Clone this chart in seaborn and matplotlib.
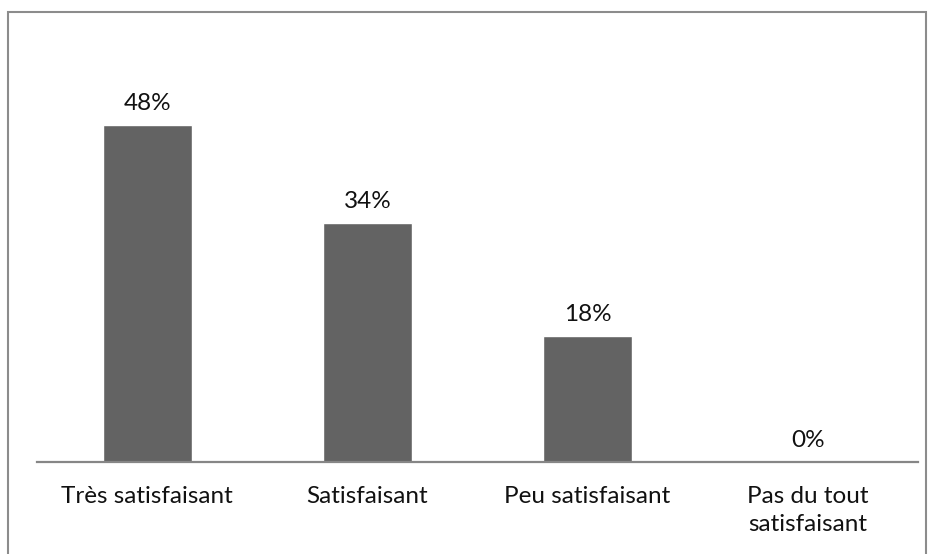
import matplotlib
matplotlib.use("Agg")
import matplotlib.pyplot as plt
import matplotlib.patches as mpatches
import seaborn as sns
import pandas as pd

categories = ["Très satisfaisant", "Satisfaisant", "Peu satisfaisant", "Pas du tout\nsatisfaisant"]
values = [48, 34, 18, 0]
labels = ["48%", "34%", "18%", "0%"]

sns.set_theme(style="white")
plt.rcParams['font.family'] = ['Lato', 'DejaVu Sans']

W, H = 935, 554
fig = plt.figure(figsize=(W / 100, H / 100), dpi=100)
fig.patch.set_facecolor("white")

# axes in pixel coordinates
left, right, bottom, top = 37, 918, 462, 40
ax = fig.add_axes([left / W, 1 - bottom / H, (right - left) / W, (bottom - top) / H])

df = pd.DataFrame({"cat": categories, "val": values})
sns.barplot(data=df, x="cat", y="val", color="#636363", saturation=1, width=0.405, ax=ax)

ppx = 7.02  # pixels per percent
ax.set_ylim(0, (bottom - top) / ppx)
ax.set_xlim(-0.5, len(categories) - 0.5)

FS = 17.5
for i, (v, lab) in enumerate(zip(values, labels)):
    ax.annotate(lab, (i, v), xytext=(0, 8), textcoords="offset points",
                ha="center", va="bottom", fontsize=FS, color="#111111")

for s in ["top", "right", "left"]:
    ax.spines[s].set_visible(False)
ax.spines["bottom"].set_color("#868686")
ax.spines["bottom"].set_linewidth(1.6)
ax.set_yticks([])
ax.set_xlabel("")
ax.set_ylabel("")
ax.tick_params(axis="x", length=0, pad=17, labelsize=FS, labelcolor="#111111")
for t in ax.get_xticklabels():
    t.set_va("top")
    t.set_linespacing(1.45)

# outer border
border = mpatches.Rectangle((8 / W, -0.05), (926 - 8) / W, 1 - 12 / H + 0.05,
                            transform=fig.transFigure, fill=False,
                            edgecolor="#8c8c8c", linewidth=1.5, clip_on=False)
fig.patches.append(border)

fig.savefig("out.png", dpi=100, facecolor="white")
